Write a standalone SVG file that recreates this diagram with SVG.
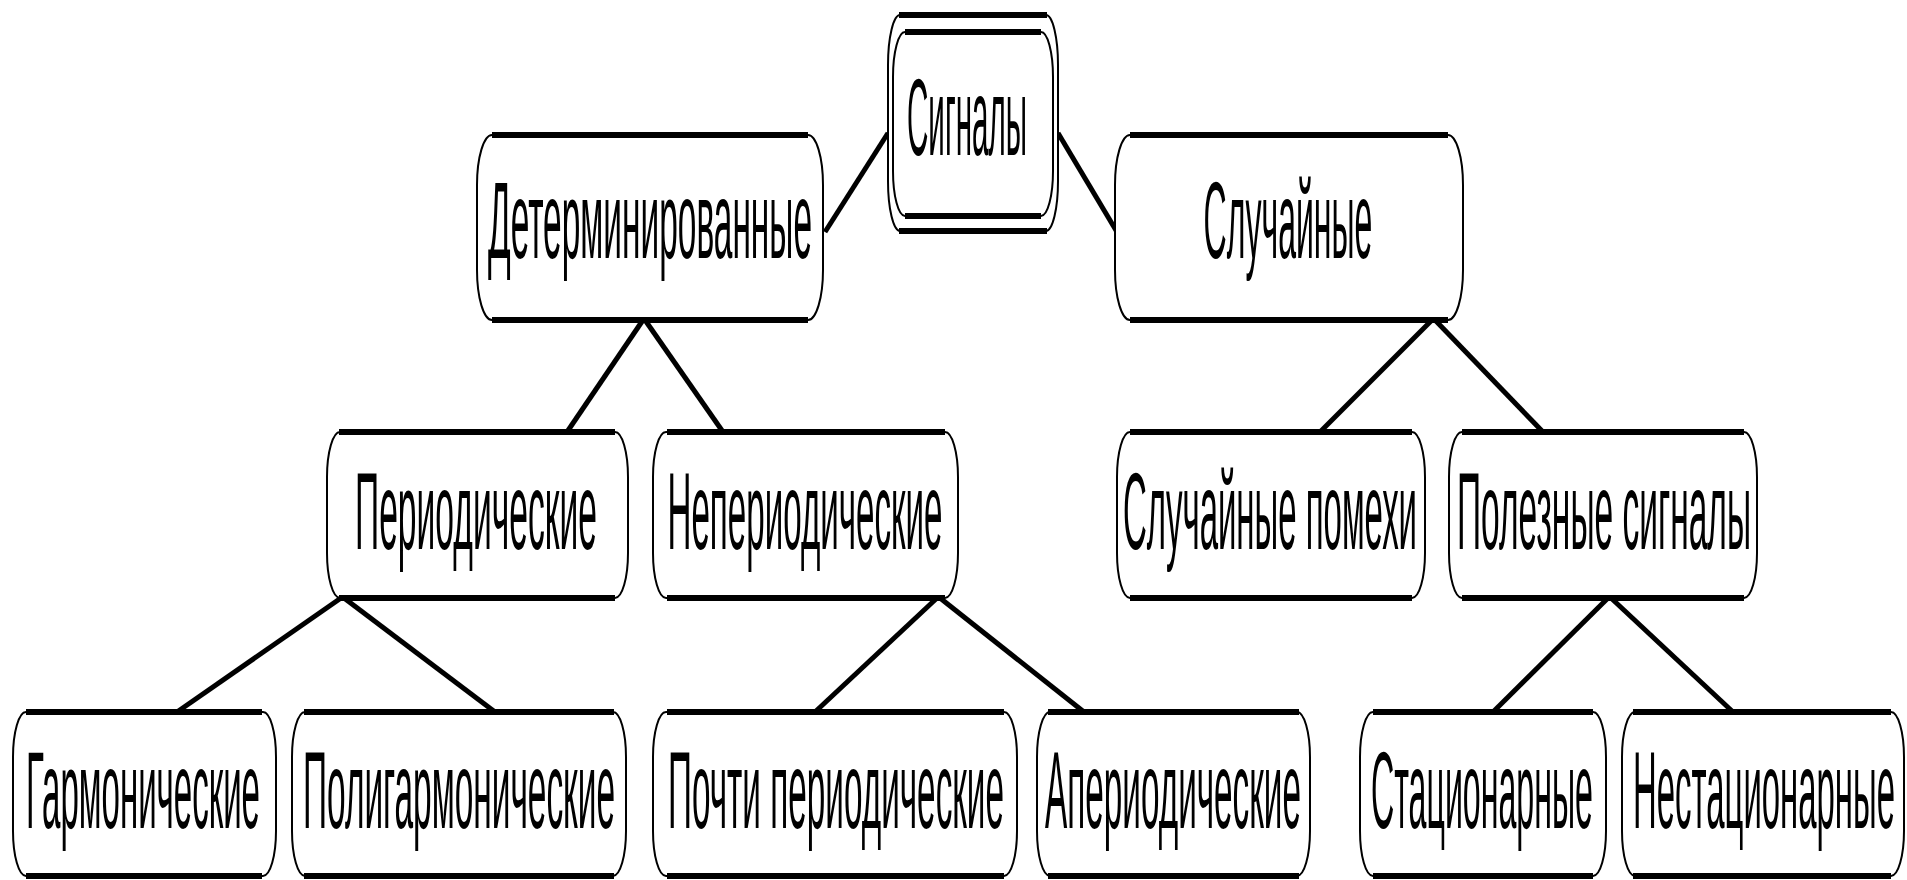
<svg xmlns="http://www.w3.org/2000/svg" width="1907" height="880" viewBox="0 0 1907 880">
<style>
.side{fill:#fff;stroke:#000;stroke-width:2}
.bar{stroke:#000;stroke-width:6;fill:none}
.lbl{font-family:"Liberation Sans",Arial,sans-serif;font-size:110px;fill:#000;text-anchor:middle}
.con{stroke:#000;stroke-width:5;fill:none}
</style>
<rect width="1907" height="880" fill="#fff"/>
<g id="connectors">
<line class="con" x1="888" y1="133" x2="825" y2="232"/>
<line class="con" x1="1058" y1="133" x2="1117" y2="232"/>
<line class="con" x1="643" y1="320" x2="567" y2="432"/>
<line class="con" x1="645" y1="320" x2="723" y2="432"/>
<line class="con" x1="1432" y1="320" x2="1320" y2="432"/>
<line class="con" x1="1435" y1="320" x2="1543" y2="432"/>
<line class="con" x1="341" y1="598" x2="177" y2="712"/>
<line class="con" x1="344" y1="598" x2="495" y2="712"/>
<line class="con" x1="937" y1="598" x2="815" y2="712"/>
<line class="con" x1="940" y1="598" x2="1084" y2="712"/>
<line class="con" x1="1608" y1="598" x2="1493" y2="712"/>
<line class="con" x1="1611" y1="598" x2="1733" y2="712"/>
</g>
<g id="n-signals">
<rect class="side" x="888" y="15" width="170" height="216" rx="12" ry="50"/>
<rect class="side" x="893" y="32" width="160" height="184" rx="12" ry="45"/>
<path class="bar" d="M899 15H1047M905 32H1041M905 216H1041M899 231H1047"/>
<text class="lbl" transform="translate(967 155) scale(0.3 1)" textLength="400" lengthAdjust="spacingAndGlyphs">Сигналы</text>
</g>
<g id="n-determ">
<rect class="side" x="477" y="135" width="346" height="185" rx="15" ry="50"/>
<path class="bar" d="M492 135H808M492 320H808"/>
<text class="lbl" transform="translate(650 258) scale(0.3 1)" textLength="1080" lengthAdjust="spacingAndGlyphs">Детерминированные</text>
</g>
<g id="n-random">
<rect class="side" x="1115" y="135" width="348" height="185" rx="15" ry="50"/>
<path class="bar" d="M1130 135H1448M1130 320H1448"/>
<text class="lbl" transform="translate(1288 258) scale(0.3 1)" textLength="563" lengthAdjust="spacingAndGlyphs">Случайные</text>
</g>
<g id="n-periodic">
<rect class="side" x="327" y="432" width="301" height="166" rx="13" ry="45"/>
<path class="bar" d="M339 432H615M339 598H615"/>
<text class="lbl" transform="translate(476 549) scale(0.3 1)" textLength="807" lengthAdjust="spacingAndGlyphs">Периодические</text>
</g>
<g id="n-nonperiodic">
<rect class="side" x="653" y="432" width="305" height="166" rx="13" ry="45"/>
<path class="bar" d="M667 432H945M667 598H945"/>
<text class="lbl" transform="translate(805 549) scale(0.3 1)" textLength="917" lengthAdjust="spacingAndGlyphs">Непериодические</text>
</g>
<g id="n-noise">
<rect class="side" x="1117" y="432" width="308" height="166" rx="13" ry="45"/>
<path class="bar" d="M1130 432H1412M1130 598H1412"/>
<text class="lbl" transform="translate(1270 549) scale(0.3 1)" textLength="980" lengthAdjust="spacingAndGlyphs">Случайные помехи</text>
</g>
<g id="n-useful">
<rect class="side" x="1449" y="432" width="308" height="166" rx="13" ry="45"/>
<path class="bar" d="M1462 432H1744M1462 598H1744"/>
<text class="lbl" transform="translate(1604 549) scale(0.3 1)" textLength="980" lengthAdjust="spacingAndGlyphs">Полезные сигналы</text>
</g>
<g id="n-harm">
<rect class="side" x="13" y="712" width="263" height="164" rx="13" ry="45"/>
<path class="bar" d="M26 712H262M26 876H262"/>
<text class="lbl" transform="translate(143 828) scale(0.3 1)" textLength="780" lengthAdjust="spacingAndGlyphs">Гармонические</text>
</g>
<g id="n-polyharm">
<rect class="side" x="292" y="712" width="334" height="164" rx="13" ry="45"/>
<path class="bar" d="M304 712H614M304 876H614"/>
<text class="lbl" transform="translate(459 828) scale(0.3 1)" textLength="1040" lengthAdjust="spacingAndGlyphs">Полигармонические</text>
</g>
<g id="n-almost">
<rect class="side" x="653" y="712" width="364" height="164" rx="13" ry="45"/>
<path class="bar" d="M667 712H1004M667 876H1004"/>
<text class="lbl" transform="translate(836 828) scale(0.3 1)" textLength="1120" lengthAdjust="spacingAndGlyphs">Почти периодические</text>
</g>
<g id="n-aperiodic">
<rect class="side" x="1037" y="712" width="273" height="164" rx="13" ry="45"/>
<path class="bar" d="M1048 712H1299M1048 876H1299"/>
<text class="lbl" transform="translate(1173 828) scale(0.3 1)" textLength="853" lengthAdjust="spacingAndGlyphs">Апериодические</text>
</g>
<g id="n-stationary">
<rect class="side" x="1360" y="712" width="246" height="164" rx="13" ry="45"/>
<path class="bar" d="M1373 712H1593M1373 876H1593"/>
<text class="lbl" transform="translate(1482 828) scale(0.3 1)" textLength="740" lengthAdjust="spacingAndGlyphs">Стационарные</text>
</g>
<g id="n-nonstationary">
<rect class="side" x="1622" y="712" width="282" height="164" rx="13" ry="45"/>
<path class="bar" d="M1633 712H1891M1633 876H1891"/>
<text class="lbl" transform="translate(1764 828) scale(0.3 1)" textLength="873" lengthAdjust="spacingAndGlyphs">Нестационарные</text>
</g>
</svg>
